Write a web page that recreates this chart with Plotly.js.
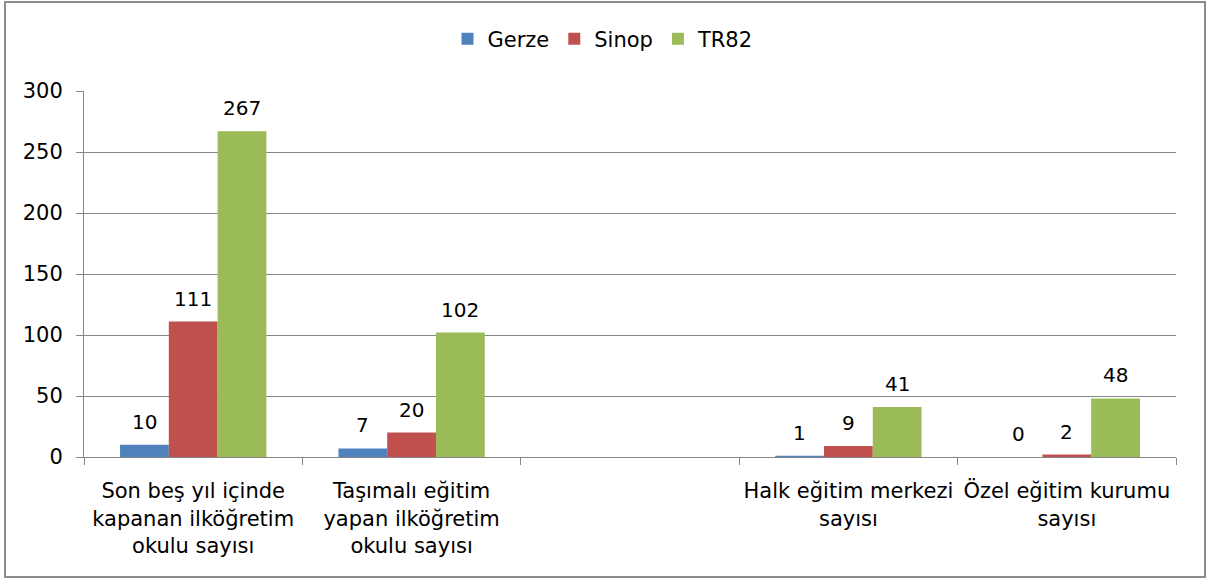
<!DOCTYPE html>
<html>
<head>
<meta charset="utf-8">
<script src="https://cdn.plot.ly/plotly-3.0.1.min.js"></script>
<style>
  html, body { margin: 0; padding: 0; background: #fff; }
  #wrap { position: relative; width: 1206px; height: 581px; }
  #frame { position: absolute; left: 4px; top: 1px; width: 1198px; height: 573px; border: 2px solid #8c8c8c; box-sizing: content-box; pointer-events: none; }
  #chart { position: absolute; left: 0; top: 0; width: 1206px; height: 581px; }
</style>
</head>
<body>
<div id="wrap">
  <div id="chart"></div>
  <div id="frame"></div>
</div>
<script>
// ---- data ----
const categories = [
  "Son beş yıl içinde<br>kapanan ilköğretim<br>okulu sayısı",
  "Taşımalı eğitim<br>yapan ilköğretim<br>okulu sayısı",
  " ",
  "Halk eğitim merkezi<br>sayısı",
  "Özel eğitim kurumu<br>sayısı"
];
const seriesNames = ["Gerze", "Sinop", "TR82"];
const gerze = [10, 7, null, 1, 0];
const sinop = [111, 20, null, 9, 2];
const tr82  = [267, 102, null, 41, 48];
const yTicks = [0, 50, 100, 150, 200, 250, 300];

// ---- style ----
const colors = ["#4F81BD", "#C0504D", "#9BBB59"];
const FONT = "DejaVu Sans, sans-serif";
const FS = 21;
const W = 1206, H = 581;
const margin = {l: 84, r: 30, t: 91, b: 124};
const bargap = 0.33;

const allSeries = [gerze, sinop, tr82];
const traces = allSeries.map((vals, i) => ({
  type: "bar",
  name: seriesNames[i],
  x: categories,
  y: vals,
  marker: {color: colors[i], line: {width: 0}},
  hoverinfo: "x+y+name"
}));

// value labels as annotations, positioned via data coords + bar offset
const plotW = W - margin.l - margin.r;
const catW = plotW / categories.length;
const barW = catW * (1 - bargap) / allSeries.length;
const annotations = [];
allSeries.forEach((vals, i) => {
  vals.forEach((v, j) => {
    if (v === null) return;
    annotations.push({
      x: categories[j], y: v, xref: "x", yref: "y",
      text: String(v), showarrow: false,
      xanchor: "center", yanchor: "bottom",
      xshift: (i - (allSeries.length - 1) / 2) * barW,
      yshift: 9,
      font: {family: FONT, size: 20, color: "#000"}
    });
  });
});

const layout = {
  width: W, height: H,
  margin: margin,
  paper_bgcolor: "#fff",
  plot_bgcolor: "#fff",
  font: {family: FONT, size: FS, color: "#000"},
  barmode: "group",
  bargap: bargap,
  bargroupgap: 0,
  showlegend: true,
  legend: {
    orientation: "h",
    xref: "container", yref: "container",
    x: 0.5, xanchor: "center",
    y: 1 - 39 / H, yanchor: "middle",
    font: {family: FONT, size: FS, color: "#000"},
    itemwidth: 30,
    traceorder: "normal"
  },
  xaxis: {
    type: "category",
    categoryorder: "array",
    categoryarray: categories,
    tickson: "boundaries",
    ticks: "outside",
    ticklen: 7,
    tickcolor: "#868686",
    tickwidth: 1,
    tickangle: 0,
    showline: true,
    linecolor: "#868686",
    linewidth: 1,
    showgrid: false,
    zeroline: false,
    tickfont: {family: FONT, size: FS, color: "#000"},
    ticklabelstandoff: 15,
    fixedrange: true
  },
  yaxis: {
    range: [0, 300],
    tickvals: yTicks,
    ticktext: yTicks.map(String),
    ticks: "outside",
    ticklen: 7,
    tickcolor: "#868686",
    showline: true,
    linecolor: "#868686",
    linewidth: 1,
    showgrid: true,
    gridcolor: "#868686",
    gridwidth: 1,
    zeroline: false,
    tickfont: {family: FONT, size: FS, color: "#000"},
    ticklabelstandoff: 9,
    fixedrange: true
  },
  annotations: annotations
};

Plotly.newPlot("chart", traces, layout, {displayModeBar: false, staticPlot: true});
</script>
</body>
</html>
